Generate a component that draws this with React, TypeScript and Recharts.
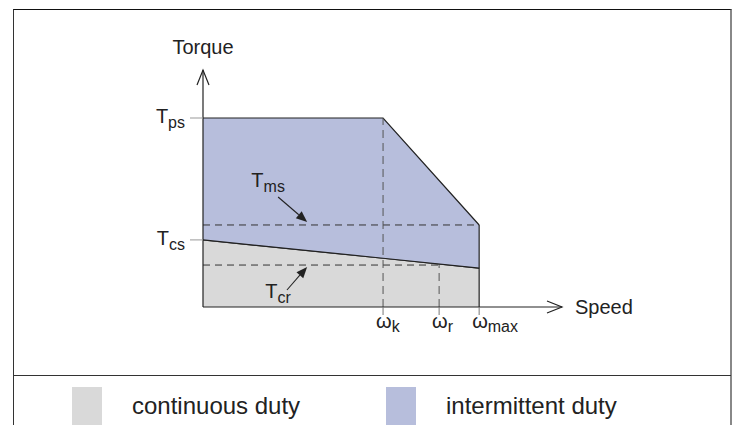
import React from 'react';
import { ComposedChart, Area, XAxis, YAxis, ReferenceLine, Legend } from 'recharts';

const GRAY = '#d9d9d9';
const BLUE = '#b7bedc';
const INK = '#222';
const DASH = '#333';
const FONT = '"Liberation Sans", Arial, Helvetica, sans-serif';

// torque / speed envelope (normalised: T_ps = 1, w_max = 1)
const speed = [0, 0.652, 1.0];
const continuousTorque = [0.355, 0.258, 0.206];
const intermittentTorque = [1.0, 1.0, 0.434];

const speedTicks = [0.652, 0.855, 1.0];
const speedTickLabels = ['k', 'r', 'max'];
const torqueTicks = [0.355, 1.0];
const torqueTickLabels = ['cs', 'ps'];

const T_MS = 0.434;
const T_CR = 0.222;
const SPEED_AXIS_END = 1.3;
const TORQUE_AXIS_END = 1.254;

// annotation arrows: start (speed, torque) -> tip (speed, torque)
const msArrow = [0.272, 0.582, 0.377, 0.45];
const crArrow = [0.304, 0.09, 0.377, 0.212];

const seriesNames = ['continuous duty', 'intermittent duty'];
const seriesColors = [GRAY, BLUE];

const data = speed.map((s, i) => ({
  speed: s,
  continuous: continuousTorque[i],
  intermittent: [continuousTorque[i], intermittentTorque[i]],
}));

function AxisArrow(p: any) {
  const { x1, y1, x2, y2 } = p;
  const dx = x2 - x1, dy = y2 - y1;
  const len = Math.hypot(dx, dy) || 1;
  const ux = dx / len, uy = dy / len;
  const L = 15, W = 6;
  const bx = x2 - ux * L, by = y2 - uy * L;
  const px = -uy * W, py = ux * W;
  return (
    <g>
      <line x1={x1} y1={y1} x2={x2} y2={y2} stroke={INK} strokeWidth={1.2} />
      <polyline
        points={`${bx + px},${by + py} ${x2},${y2} ${bx - px},${by - py}`}
        fill="none" stroke={INK} strokeWidth={1.2}
      />
    </g>
  );
}

function makeNote(sub: string, dx: number, dy: number) {
  return function Note(p: any) {
    const { x1, y1, x2, y2 } = p;
    const ddx = x2 - x1, ddy = y2 - y1;
    const len = Math.hypot(ddx, ddy) || 1;
    const ux = ddx / len, uy = ddy / len;
    const L = 11, W = 4.5;
    const bx = x2 - ux * L, by = y2 - uy * L;
    const px = -uy * W, py = ux * W;
    return (
      <g>
        <line x1={x1} y1={y1} x2={bx} y2={by} stroke={INK} strokeWidth={1.1} />
        <polygon points={`${bx + px},${by + py} ${x2},${y2} ${bx - px},${by - py}`} fill={INK} />
        <text x={x1 + dx} y={y1 + dy} textAnchor="middle" fontFamily={FONT} fill={INK}>
          <tspan fontSize={20}>T</tspan>
          <tspan fontSize={16} dy={5}>{sub}</tspan>
        </text>
      </g>
    );
  };
}

function SpeedTick(p: any) {
  const { x, y, payload } = p;
  const i = speedTicks.indexOf(payload.value);
  return (
    <text x={x - 7} y={y + 11} textAnchor="start" fontFamily={FONT} fill={INK}>
      <tspan fontSize={20}>ω</tspan>
      <tspan fontSize={16} dy={4}>{speedTickLabels[i]}</tspan>
    </text>
  );
}

function TorqueTick(p: any) {
  const { x, y, payload } = p;
  const i = torqueTicks.indexOf(payload.value);
  return (
    <text x={x - 3} y={y + 5} textAnchor="end" fontFamily={FONT} fill={INK}>
      <tspan fontSize={20}>T</tspan>
      <tspan fontSize={16} dy={5}>{torqueTickLabels[i]}</tspan>
    </text>
  );
}

function LegendContent({ payload }: any) {
  const items = payload || [];
  const xs = [72, 386];
  return (
    <svg width={734} height={49} style={{ display: 'block' }}>
      {items.map((e: any, i: number) => {
        const k = seriesNames.indexOf(e.value);
        return (
          <g key={e.value}>
            <rect x={xs[i]} y={11} width={30} height={40} fill={seriesColors[k]} />
            <text x={xs[i] + 60} y={38} fontSize={24} fontFamily={FONT} fill={INK}>{e.value}</text>
          </g>
        );
      })}
    </svg>
  );
}

export default function App() {
  return (
    <div style={{ position: 'absolute', left: 0, top: 0, width: 734, height: 425, overflow: 'hidden', background: '#fff' }}>
      <div style={{
        position: 'absolute', left: 13, top: 9, width: 719, height: 460, boxSizing: 'border-box',
        borderTop: '1px solid #111', borderLeft: '1px solid #333', borderRight: '2px solid #888',
      }} />
      <div style={{ position: 'absolute', left: 13, top: 375, width: 718, height: 1, background: '#333' }} />
      <div style={{ position: 'absolute', left: 0, top: 0 }}>
        <ComposedChart
          width={734}
          height={425}
          data={data}
          margin={{ top: 70, right: 172, bottom: 88, left: 163 }}
          style={{ fontFamily: FONT }}
        >
          <XAxis
            type="number" dataKey="speed" domain={[0, SPEED_AXIS_END]} ticks={speedTicks}
            axisLine={false} tickLine={{ stroke: '#777' }} tickSize={8} height={30}
            tick={<SpeedTick />} interval={0}
          />
          <YAxis
            type="number" domain={[0, TORQUE_AXIS_END]} ticks={torqueTicks}
            axisLine={false} tickLine={{ stroke: '#999' }} tickSize={13} width={40}
            tick={<TorqueTick />} interval={0}
          />
          <Area
            name={seriesNames[0]} type="linear" dataKey="continuous"
            fill={GRAY} fillOpacity={1} stroke={INK} strokeWidth={1.2}
            isAnimationActive={false} legendType="square"
          />
          <Area
            name={seriesNames[1]} type="linear" dataKey="intermittent"
            fill={BLUE} fillOpacity={1} stroke={INK} strokeWidth={1.2}
            isAnimationActive={false} legendType="square"
          />
          {/* dashed guides */}
          <ReferenceLine segment={[{ x: 0, y: T_MS }, { x: 1.0, y: T_MS }]} stroke={DASH} strokeDasharray="7 5" ifOverflow="visible" />
          <ReferenceLine segment={[{ x: 0, y: T_CR }, { x: speedTicks[1], y: T_CR }]} stroke={DASH} strokeDasharray="7 5" ifOverflow="visible" />
          <ReferenceLine segment={[{ x: speedTicks[0], y: 0 }, { x: speedTicks[0], y: 1.0 }]} stroke="#555" strokeDasharray="8 5" ifOverflow="visible" />
          <ReferenceLine segment={[{ x: speedTicks[1], y: 0 }, { x: speedTicks[1], y: T_CR }]} stroke="#555" strokeDasharray="8 5" ifOverflow="visible" />
          {/* right edge of envelope */}
          <ReferenceLine segment={[{ x: 1.0, y: 0 }, { x: 1.0, y: T_MS }]} stroke={INK} strokeWidth={1.2} ifOverflow="visible" />
          {/* axes with open arrow heads */}
          <ReferenceLine
            segment={[{ x: 0, y: 0 }, { x: SPEED_AXIS_END, y: 0 }]} ifOverflow="visible" shape={AxisArrow}
            label={{ value: 'Speed', position: 'right', offset: 13, fontSize: 20, fill: INK, fontFamily: FONT }}
          />
          <ReferenceLine
            segment={[{ x: 0, y: 0 }, { x: 0, y: TORQUE_AXIS_END }]} ifOverflow="visible" shape={AxisArrow}
            label={{ value: 'Torque', position: 'top', offset: 16, fontSize: 20, fill: INK, fontFamily: FONT }}
          />
          {/* callouts */}
          <ReferenceLine
            segment={[{ x: msArrow[0], y: msArrow[1] }, { x: msArrow[2], y: msArrow[3] }]}
            ifOverflow="visible" shape={makeNote('ms', -10, -10)}
          />
          <ReferenceLine
            segment={[{ x: crArrow[0], y: crArrow[1] }, { x: crArrow[2], y: crArrow[3] }]}
            ifOverflow="visible" shape={makeNote('cr', -9, 8)}
          />
          <Legend
            verticalAlign="middle" layout="horizontal" align="center"
            wrapperStyle={{ left: 0, top: 376, width: 734, height: 49 }}
            content={<LegendContent />}
          />
        </ComposedChart>
      </div>
    </div>
  );
}
